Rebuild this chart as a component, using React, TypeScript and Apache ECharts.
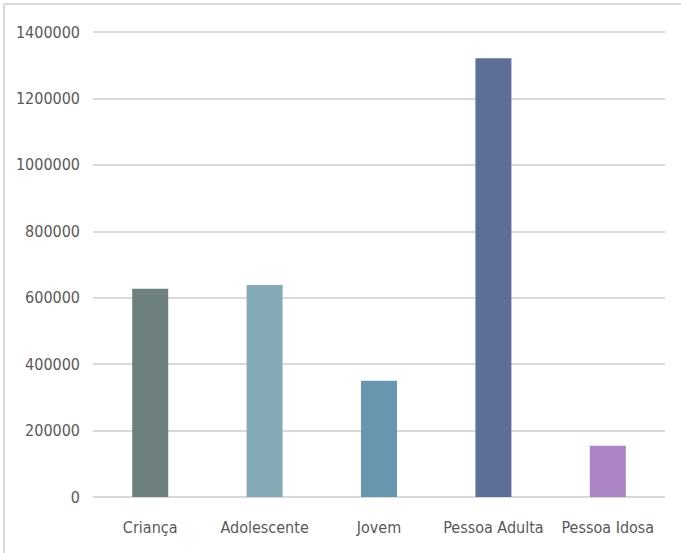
import React, { useEffect, useRef } from "react";
import * as echarts from "echarts";

const categories = ["Criança", "Adolescente", "Jovem", "Pessoa Adulta", "Pessoa Idosa"];
const values = [627000, 638000, 350000, 1321000, 154500];
const barColors = ["#6e7f80", "#84abb5", "#6896ae", "#5d6f98", "#ab84c4"];

const FONT = "'DejaVu Sans Condensed', 'Liberation Sans', sans-serif";

export default function App() {
  const ref = useRef<HTMLDivElement>(null);

  useEffect(() => {
    if (!ref.current) return;
    const chart = echarts.init(ref.current, null, { renderer: "svg" });
    chart.setOption({
      animation: false,
      backgroundColor: "#ffffff",
      grid: { left: 93, right: 16, top: 32, bottom: 56, containLabel: false },
      graphic: [
        {
          type: "line",
          shape: { x1: 4, y1: 4, x2: 681, y2: 4 },
          style: { stroke: "#d9d9d9", lineWidth: 2 },
        },
        {
          type: "line",
          shape: { x1: 4, y1: 4, x2: 4, y2: 553 },
          style: { stroke: "#d9d9d9", lineWidth: 2 },
        },
      ],
      xAxis: {
        type: "category",
        data: categories,
        axisLine: { show: false },
        axisTick: { show: false },
        axisLabel: {
          color: "#595959",
          fontFamily: FONT,
          fontSize: 16,
          margin: 22,
          interval: 0,
        },
      },
      yAxis: {
        type: "value",
        min: 0,
        max: 1400000,
        interval: 200000,
        axisLine: { show: false },
        axisTick: { show: false },
        splitLine: { lineStyle: { color: "#d9d9d9", width: 2 } },
        axisLabel: {
          color: "#595959",
          fontFamily: FONT,
          fontSize: 16,
          margin: 13,
          padding: [5, 0, 0, 0],
          formatter: (v: number) => String(v),
        },
      },
      series: [
        {
          type: "bar",
          barWidth: 36,
          data: values.map((v, i) => ({ value: v, itemStyle: { color: barColors[i] } })),
        },
      ],
    });
    return () => chart.dispose();
  }, []);

  return (
    <div
      ref={ref}
      style={{ position: "absolute", left: 0, top: 0, width: 681, height: 553 }}
    />
  );
}
